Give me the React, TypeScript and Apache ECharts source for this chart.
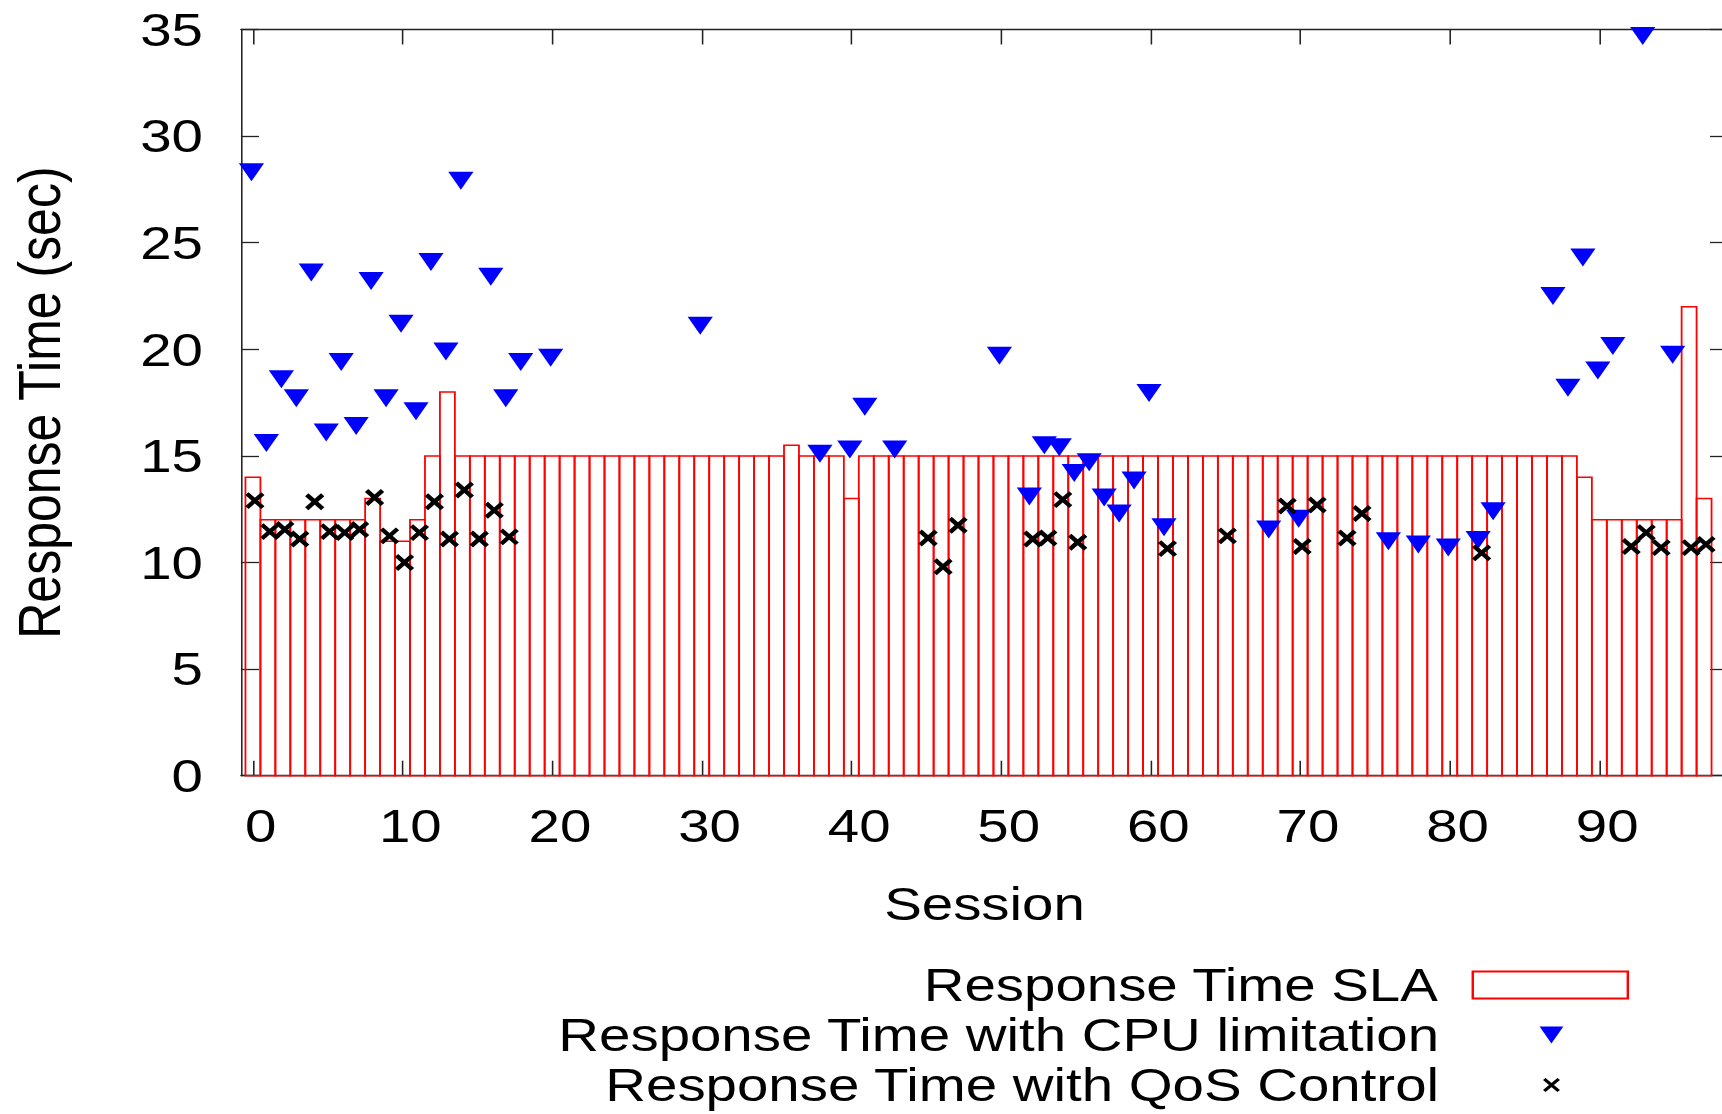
import React, { useEffect, useRef } from "react";
import * as echarts from "echarts";

// ---------------- data ----------------
const SLA_NAME = "Response Time SLA";
const CPU_NAME = "Response Time with CPU limitation";
const QOS_NAME = "Response Time with QoS Control";

const xTickValues = [0, 10, 20, 30, 40, 50, 60, 70, 80, 90];

// SLA per session (index = session 0..97)
const slaValues = [
  14, 12, 12, 12, 12, 12, 12, 12, 13, 11,
  11, 12, 15, 18, 15, 15, 15, 15, 15, 15,
  15, 15, 15, 15, 15, 15, 15, 15, 15, 15,
  15, 15, 15, 15, 15, 15, 15.5, 15, 15, 15,
  13, 15, 15, 15, 15, 15, 15, 15, 15, 15,
  15, 15, 15, 15, 15, 15, 15, 15, 15, 15,
  15, 15, 15, 15, 15, 15, 15, 15, 15, 15,
  15, 15, 15, 15, 15, 15, 15, 15, 15, 15,
  15, 15, 15, 15, 15, 15, 15, 15, 15, 14,
  12, 12, 12, 12, 12, 12, 22, 13,
];

const cpuSessions = [
  0, 1, 2, 3, 4, 5, 6, 7, 8, 9, 10, 11, 12, 13, 14, 16, 17, 18, 20, 30,
  38, 40, 41, 43, 50, 52, 53, 54, 55, 56, 57, 58, 59, 60, 61, 68, 70, 76, 78, 80,
  82, 83, 87, 88, 89, 90, 91, 93, 95,
];
const cpuValues = [
  28.3, 15.6, 18.6, 17.7, 23.6, 16.1, 19.4, 16.4, 23.2, 17.7, 21.2, 17.1, 24.1, 19.9, 27.9, 23.4, 17.7, 19.4, 19.6, 21.1,
  15.1, 15.3, 17.3, 15.3, 19.7, 13.1, 15.5, 15.4, 14.2, 14.7, 13.05, 12.3, 13.85, 17.95, 11.65, 11.55, 12.05, 11.0, 10.85, 10.7,
  11.05, 12.4, 22.5, 18.2, 24.3, 19.0, 20.15, 34.7, 19.75,
];

const qosSessions = [
  0, 1, 2, 3, 4, 5, 6, 7, 8, 9, 10, 11, 12, 13, 14, 15, 16, 17,
  45, 46, 47, 52, 53, 54, 55, 61, 65, 69, 70, 71, 73, 74, 82, 92, 93, 94, 96, 97,
];
const qosValues = [
  12.9, 11.45, 11.55, 11.1, 12.85, 11.45, 11.4, 11.55, 13.05, 11.25, 10.0, 11.4, 12.85, 11.1, 13.4, 11.1, 12.45, 11.2,
  11.15, 9.8, 11.75, 11.1, 11.15, 12.95, 10.95, 10.65, 11.25, 12.65, 10.75, 12.7, 11.15, 12.3, 10.45, 10.75, 11.4, 10.7, 10.7, 10.85,
];

// ---------------- layout / style ----------------
// The reference picture is stretched horizontally (wide glyphs), so the chart is
// drawn in a narrower box and widened with a CSS scaleX.
const STRETCH = 1.2;
const CHART_W = 1450; // x 1.2 = 1740px, frame runs slightly past the visible 1722px
const CHART_H = 1114;
const FONT = "'Liberation Sans', Arial, Helvetica, sans-serif";
const AXIS_COLOR = "#222";
const CPU_SHIFT = -0.1;
const QOS_SHIFT = 0.13;
const TRI = "path://M0,0L21,0L10.5,18Z";
const CROSS = "path://M0,0L10,10M10,0L0,10";

export default function App() {
  const ref = useRef<HTMLDivElement>(null);

  useEffect(() => {
    if (!ref.current) return;
    const chart = echarts.init(ref.current, null, {
      renderer: "svg",
      width: CHART_W,
      height: CHART_H,
    });

    const slaData = slaValues.map((v, i) => [i, v]);
    const cpuData = cpuSessions.map((s, i) => [s + CPU_SHIFT, cpuValues[i]]);
    const qosData = qosSessions.map((s, i) => [s + QOS_SHIFT, qosValues[i]]);

    const axisLine = { show: true, onZero: false, lineStyle: { color: AXIS_COLOR, width: 1.3 } };
    const tickStyle = { color: AXIS_COLOR, width: 1.3 };

    const legendBase: any = {
      orient: "vertical",
      align: "right",
      padding: 0,
      itemGap: 0,
      itemWidth: 129.2,
      selectedMode: false,
      symbolKeepAspect: true,
      textStyle: {
        fontSize: 47,
        color: "#000",
        fontFamily: FONT,
        lineHeight: 47,
        padding: [0, 24.1, 0, 0],
      },
    };

    const option: any = {
      animation: false,
      backgroundColor: "#fff",
      textStyle: { fontFamily: FONT, color: "#000" },
      grid: {
        left: 200.8,
        right: 10,
        top: 29.5,
        bottom: 338.3,
        containLabel: false,
        outerBoundsMode: "none",
      },
      xAxis: [
        {
          type: "value",
          position: "bottom",
          min: -0.8,
          max: 98.6,
          name: "Session",
          nameLocation: "middle",
          nameGap: 104,
          nameTextStyle: { fontSize: 47, color: "#000", fontFamily: FONT },
          axisLine,
          axisTick: { show: true, inside: true, length: 15, customValues: xTickValues, lineStyle: tickStyle },
          axisLabel: {
            show: true,
            customValues: xTickValues,
            fontSize: 47,
            color: "#000",
            fontFamily: FONT,
            margin: 26,
            padding: [0, 0, 0, 13],
          },
          splitLine: { show: false },
        },
        {
          type: "value",
          position: "top",
          min: -0.8,
          max: 98.6,
          axisLine,
          axisTick: { show: true, inside: true, length: 15, customValues: xTickValues, lineStyle: tickStyle },
          axisLabel: { show: false },
          splitLine: { show: false },
        },
      ],
      yAxis: [
        {
          type: "value",
          position: "left",
          min: 0,
          max: 35,
          interval: 5,
          name: "Response Time (sec)",
          nameLocation: "middle",
          nameGap: 143,
          nameTextStyle: { fontSize: 50, color: "#000", fontFamily: FONT },
          axisLine,
          axisTick: { show: true, inside: true, length: 15, lineStyle: tickStyle },
          axisLabel: { show: true, fontSize: 47, color: "#000", fontFamily: FONT, margin: 31.7 },
          splitLine: { show: false },
        },
        {
          type: "value",
          position: "right",
          min: 0,
          max: 35,
          interval: 5,
          axisLine,
          axisTick: { show: true, inside: true, length: 15, lineStyle: tickStyle },
          axisLabel: { show: false },
          splitLine: { show: false },
        },
      ],
      legend: [
        {
          ...legendBase,
          top: 961.5,
          right: 92.5,
          itemHeight: 27,
          data: [
            {
              name: SLA_NAME,
              icon: "rect",
              itemStyle: { color: "#fff", borderColor: "#ff0000", borderWidth: 2 },
            },
          ],
        },
        {
          ...legendBase,
          top: 1011.5,
          right: 147.2,
          itemHeight: 17,
          data: [{ name: CPU_NAME, icon: TRI, itemStyle: { color: "#0000ff", borderWidth: 0, opacity: 1 } }],
        },
        {
          ...legendBase,
          top: 1061.5,
          right: 149.6,
          itemHeight: 12,
          data: [
            {
              name: QOS_NAME,
              icon: CROSS,
              itemStyle: { color: "transparent", borderColor: "#000", borderWidth: 3, opacity: 1 },
            },
          ],
        },
      ],
      series: [
        {
          type: "custom",
          name: SLA_NAME,
          xAxisIndex: 0,
          yAxisIndex: 0,
          data: slaData,
          encode: { x: 0, y: 1 },
          itemStyle: { color: "#fff", borderColor: "#ff0000" },
          silent: true,
          z: 1,
          renderItem: (params: any, api: any) => {
            const x = api.value(0);
            const y = api.value(1);
            const p0 = api.coord([x - 0.5, y]);
            const p1 = api.coord([x + 0.5, 0]);
            return {
              type: "rect",
              shape: { x: p0[0], y: p0[1], width: p1[0] - p0[0], height: p1[1] - p0[1] },
              style: { fill: "none", stroke: "#ff0000", lineWidth: 1.5 },
            };
          },
        },
        {
          type: "scatter",
          name: CPU_NAME,
          xAxisIndex: 0,
          yAxisIndex: 0,
          data: cpuData,
          symbol: TRI,
          symbolSize: [21, 18],
          itemStyle: { color: "#0000ff", opacity: 1 },
          silent: true,
          z: 3,
        },
        {
          type: "scatter",
          name: QOS_NAME,
          xAxisIndex: 0,
          yAxisIndex: 0,
          data: qosData,
          symbol: CROSS,
          symbolSize: [13.3, 14],
          itemStyle: { color: "transparent", borderColor: "#000", borderWidth: 4, opacity: 1 },
          silent: true,
          z: 4,
        },
      ],
    };

    chart.setOption(option);
    return () => chart.dispose();
  }, []);

  return (
    <div
      style={{
        position: "fixed",
        left: 0,
        top: 0,
        width: 1722,
        height: 1114,
        overflow: "hidden",
        background: "#fff",
      }}
    >
      <div
        ref={ref}
        style={{
          width: CHART_W,
          height: CHART_H,
          transform: `scaleX(${STRETCH})`,
          transformOrigin: "0 0",
        }}
      />
    </div>
  );
}
